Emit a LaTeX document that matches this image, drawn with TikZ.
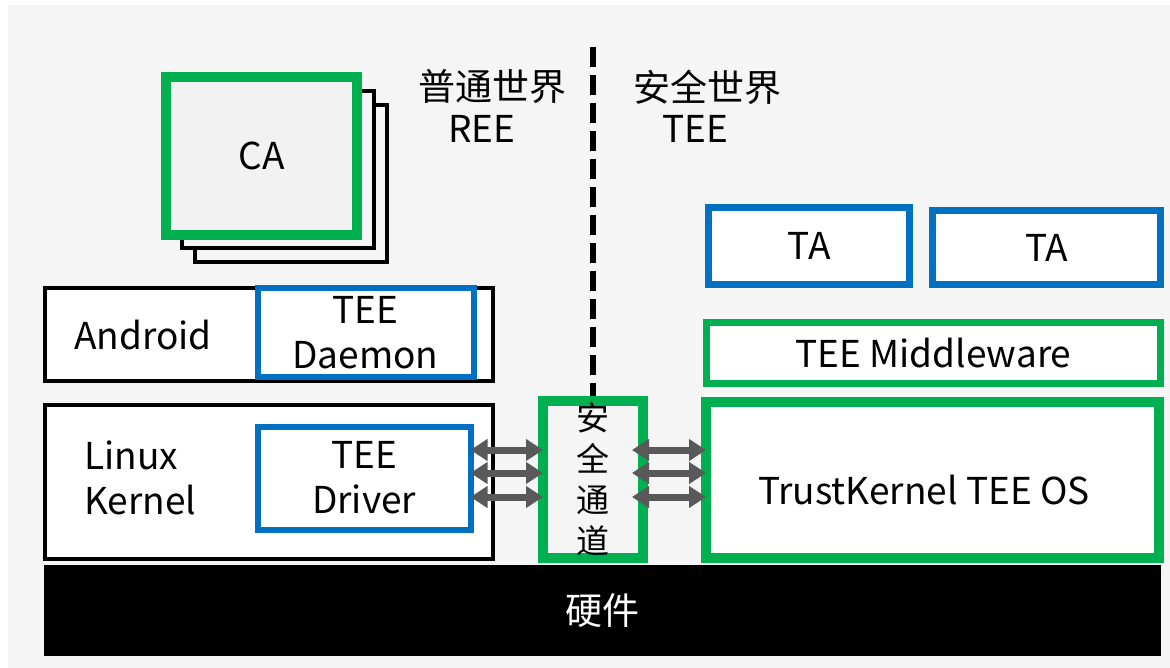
\documentclass[tikz,border=0pt]{standalone}
\usepackage{fontspec}
\setmainfont{Noto Sans CJK SC}
\usetikzlibrary{arrows.meta}
\definecolor{bggray}{HTML}{F5F5F5}
\definecolor{cagray}{HTML}{F2F2F2}
\definecolor{tgreen}{HTML}{00B050}
\definecolor{tblue}{HTML}{0070C0}
\definecolor{arrgray}{HTML}{595959}
\tikzset{
  box/.style={rectangle, inner sep=0pt, outer sep=0pt, fill=white, align=center,
    font=\fontsize{37}{45}\selectfont},
  blackbox/.style={box, draw=black, line width=4pt},
  bluebox/.style={box, draw=tblue, line width=6pt},
  greenbox/.style={box, draw=tgreen, line width=8pt},
  lbl/.style={inner sep=0pt, align=center, font=\fontsize{37}{45}\selectfont},
  biarr/.style={draw=arrgray, line width=7pt,
    {Triangle[length=17pt,width=21pt]}-{Triangle[length=17pt,width=21pt]}},
  divider/.style={line width=6.5pt, dash pattern=on 20pt off 8pt}
}
\begin{document}
\begin{tikzpicture}[x=1pt,y=-1pt]
\useasboundingbox (0,0) rectangle (1170,668);
\fill[white] (0,0) rectangle (1170,668);
\fill[bggray] (8,5) rectangle (1170,668);

% CA stack
\node[blackbox, fill=bggray, minimum width=192pt, minimum height=157pt] (ca2) at (291,184) {};
\node[blackbox, fill=bggray, minimum width=192pt, minimum height=157pt] (ca1) at (278,169.5) {};
\node[greenbox, line width=10pt, fill=cagray, minimum width=191pt, minimum height=158pt] (ca) at (261.5,156) {CA};

% world labels
\node[lbl] (ree1) at (492,87) {普通世界};
\node[lbl] (ree2) at (482,129) {REE};
\node[lbl] (tee1) at (707,87) {安全世界};
\node[lbl] (tee2) at (695,129) {TEE};

% REE side
\node[blackbox, minimum width=448pt, minimum height=93pt] (android) at (269,334.5) {};
\node[lbl] (androidtxt) at (143,335) {Android};
\node[bluebox, minimum width=216pt, minimum height=88pt] (daemon) at (365.5,332.5) {TEE\\Daemon};
\node[blackbox, minimum width=448pt, minimum height=154pt] (kernel) at (269,482) {};
\node[lbl, align=left, anchor=west] (kerneltxt) at (84,478) {Linux\\Kernel};
\node[bluebox, minimum width=213pt, minimum height=103pt] (driver) at (364,478) {TEE\\Driver};

% secure channel
\coordinate (divtop) at (593,47);
\draw[divider] (divtop) -- (593,397);
\node[greenbox, line width=10pt, fill=bggray, minimum width=100pt, minimum height=157pt,
  font=\fontsize{33}{41}\selectfont] (chan) at (593,479.5) {安\\全\\通\\道};

% TEE side
\node[bluebox, line width=7pt, minimum width=201pt, minimum height=77pt] (ta1) at (809,246) {TA};
\node[bluebox, line width=7pt, minimum width=228pt, minimum height=74pt] (ta2) at (1046.5,247.5) {TA};
\node[greenbox, line width=7pt, minimum width=454pt, minimum height=61pt] (mid) at (933.5,353) {TEE Middleware};
\node[greenbox, line width=10pt, minimum width=453pt, minimum height=156pt] (teeos) at (932.5,480) {};
\node[lbl] (teeostxt) at (924,490) {TrustKernel TEE OS};

% hardware
\node[box, fill=black, text=white, minimum width=1117pt, minimum height=91pt] (hw) at (602.5,610.5) {硬件};

% arrows
\foreach \yy in {450,473,497} {
  \draw[biarr] (driver.east |- 0,\yy) -- (chan.west |- 0,\yy);
  \draw[biarr] ([xshift=-11pt]chan.east |- 0,\yy) -- (teeos.west |- 0,\yy);
}
\end{tikzpicture}
\end{document}
